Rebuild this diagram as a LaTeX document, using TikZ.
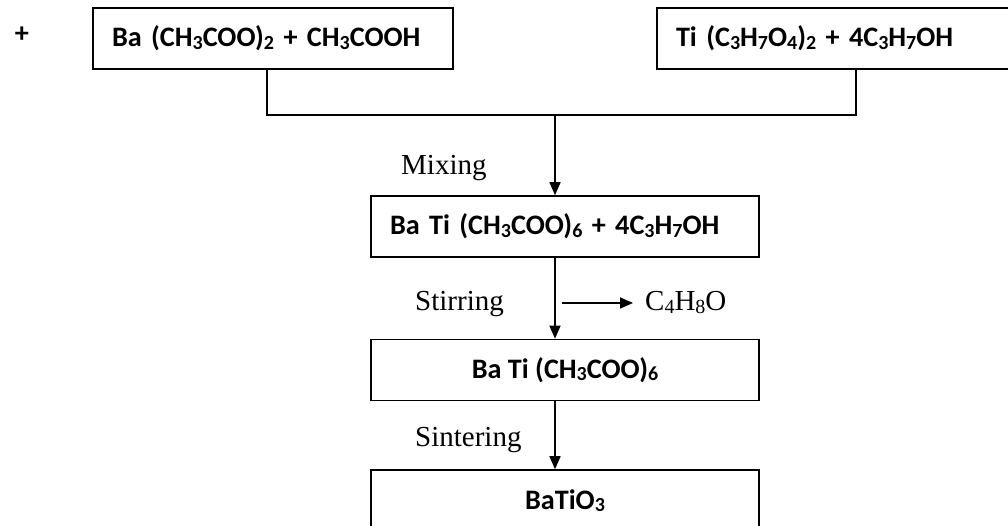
\documentclass[tikz,border=0pt]{standalone}
\usepackage{fontspec}
\setmainfont{Liberation Serif}
\newfontfamily\boxfont{Carlito}
\usetikzlibrary{arrows.meta,positioning,calc}
\newcommand{\sbs}[1]{\raisebox{-2.6pt}{\fontsize{20}{20}\selectfont #1}}

\begin{document}
\begin{tikzpicture}[x=1pt,y=1pt]

		\tikzset{line/.style={draw,line width=1.6pt}}
		\tikzset{arrow/.style={line,-{Triangle[length=13pt,width=11pt]}}}
		\tikzset{box/.style={line,rectangle,minimum height=61pt,inner xsep=19pt,inner ysep=0pt,font=\boxfont\bfseries\fontsize{28.2}{30}\selectfont}}
		\tikzset{lbox/.style={box,text width=#1,align=left}}
		\tikzset{cbox/.style={box,minimum width=388pt}}
		\tikzset{txt/.style={inner sep=0pt,font=\fontsize{29}{32}\selectfont}}

		\useasboundingbox (0,0) rectangle (1008,526);
		\clip (0,0) rectangle (1008,526);

		\node[inner sep=0pt,font=\boxfont\bfseries\fontsize{28.2}{30}\selectfont] (plus) at (22,491) {+};

		% starting solutions
		\node[lbox=322pt] (acet) at (273,487.5) {Ba (CH\sbs{3}COO)\sbs{2} + CH\sbs{3}COOH};
		\node[lbox=320pt] (tipr) at (836,487.5) {Ti (C\sbs{3}H\sbs{7}O\sbs{4})\sbs{2} + 4C\sbs{3}H\sbs{7}OH};

		% process chain
		\node[lbox=350pt] (mix) at (565,299.5) {Ba Ti (CH\sbs{3}COO)\sbs{6} + 4C\sbs{3}H\sbs{7}OH};
		\node[cbox] (sol) at (565,156) {Ba Ti (CH\sbs{3}COO)\sbs{6}};
		\node[cbox] (bto) at (565,25.5) {BaTiO\sbs{3}};

		\coordinate (join) at (555,411);
		\coordinate (vent) at (562,223);

		\node[txt,anchor=base west] (mixing) at (401,351) {Mixing};
		\node[txt,anchor=base west] (stir) at (415,215) {Stirring};
		\node[txt,anchor=base west] (sinter) at (415,79) {Sintering};
		\node[txt,anchor=base west] (gas) at (645,215) {C\sbs{4}H\sbs{8}O};

		\draw[line] ([xshift=-6pt]acet.south) |- (join) -| ([xshift=20pt]tipr.south);
		\draw[arrow] (join) -- (join |- mix.north);
		\draw[arrow] (join |- mix.south) -- (join |- sol.north);
		\draw[arrow] (join |- sol.south) -- (join |- bto.north);
		\draw[arrow] (vent) -- (vent -| 633,0);

	\end{tikzpicture}
\end{document}
